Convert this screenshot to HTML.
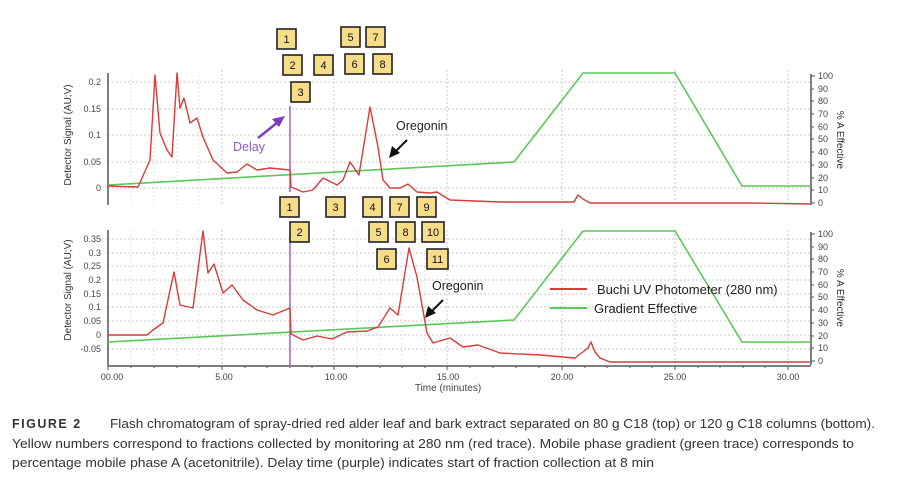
<!DOCTYPE html>
<html><head><meta charset="utf-8"><style>
html,body{margin:0;padding:0;background:#fff;}
svg{display:block;font-family:"Liberation Sans",sans-serif;}
.g{stroke:#c8c8c8;stroke-width:1;stroke-dasharray:2,2;}
.gm{stroke:#e4e4e4;stroke-width:1;stroke-dasharray:2,2;}
.t{font-size:9px;fill:#444;}
.b rect{fill:#f7dd8a;stroke:#222;stroke-width:1.6;}
.b text{font-size:11px;fill:#111;text-anchor:middle;}
.cap{font-size:12.5px;fill:#333;}
</style></head><body>
<svg width="908" height="490" viewBox="0 0 908 490" xmlns="http://www.w3.org/2000/svg">
<g class="gm">
<line x1="131" y1="75" x2="131" y2="205"/><line x1="154" y1="75" x2="154" y2="205"/><line x1="177" y1="75" x2="177" y2="205"/><line x1="199" y1="75" x2="199" y2="205"/>
<line x1="131" y1="230" x2="131" y2="365"/><line x1="154" y1="230" x2="154" y2="365"/><line x1="177" y1="230" x2="177" y2="365"/><line x1="199" y1="230" x2="199" y2="365"/>
<line x1="357" y1="230" x2="357" y2="365"/><line x1="380" y1="230" x2="380" y2="365"/><line x1="402" y1="230" x2="402" y2="365"/><line x1="425" y1="230" x2="425" y2="365"/>
</g>
<g class="g">
<line x1="222" y1="70" x2="222" y2="205"/><line x1="334" y1="70" x2="334" y2="205"/><line x1="447" y1="70" x2="447" y2="205"/><line x1="562" y1="70" x2="562" y2="205"/><line x1="675" y1="70" x2="675" y2="205"/><line x1="788" y1="70" x2="788" y2="205"/>
<line x1="222" y1="230" x2="222" y2="365"/><line x1="334" y1="230" x2="334" y2="365"/><line x1="447" y1="230" x2="447" y2="365"/><line x1="562" y1="230" x2="562" y2="365"/><line x1="675" y1="230" x2="675" y2="365"/><line x1="788" y1="230" x2="788" y2="365"/>
<line x1="108" y1="82" x2="810" y2="82"/><line x1="108" y1="109" x2="810" y2="109"/><line x1="108" y1="135" x2="810" y2="135"/><line x1="108" y1="162" x2="810" y2="162"/><line x1="108" y1="188" x2="810" y2="188"/>
<line x1="108" y1="239" x2="810" y2="239"/><line x1="108" y1="253" x2="810" y2="253"/><line x1="108" y1="266" x2="810" y2="266"/><line x1="108" y1="280" x2="810" y2="280"/><line x1="108" y1="294" x2="810" y2="294"/><line x1="108" y1="307" x2="810" y2="307"/><line x1="108" y1="321" x2="810" y2="321"/><line x1="108" y1="335" x2="810" y2="335"/><line x1="108" y1="349" x2="810" y2="349"/>
</g>
<g stroke="#555" stroke-width="1.5" fill="none">
<line x1="108" y1="73" x2="108" y2="205"/><line x1="108" y1="230" x2="108" y2="366"/>
<line x1="811" y1="74" x2="811" y2="205"/><line x1="811" y1="232" x2="811" y2="365"/>
<line x1="108" y1="366" x2="811" y2="366"/>
</g>
<g stroke="#555" stroke-width="1">
<path d="M811 76h4M811 89h3M811 101h3M811 114h3M811 127h3M811 139h3M811 152h3M811 165h3M811 178h3M811 190h3M811 203h4"/>
<path d="M811 234h4M811 247h3M811 259h3M811 272h3M811 285h3M811 297h3M811 310h3M811 323h3M811 336h3M811 348h3M811 361h4"/>
<path d="M108 366v4M131 366v2M154 366v2M177 366v2M199 366v2M222 366v4M245 366v2M267 366v2M290 366v2M312 366v2M334 366v4M357 366v2M380 366v2M402 366v2M425 366v2M447 366v4M470 366v2M493 366v2M516 366v2M539 366v2M562 366v4M585 366v2M607 366v2M630 366v2M652 366v2M675 366v4M698 366v2M720 366v2M743 366v2M765 366v2M788 366v4"/>
</g>
<g class="t" text-anchor="end">
<text x="101" y="85">0.2</text><text x="101" y="112">0.15</text><text x="101" y="138">0.1</text><text x="101" y="165">0.05</text><text x="101" y="191">0</text>
<text x="101" y="242">0.35</text><text x="101" y="256">0.3</text><text x="101" y="269">0.25</text><text x="101" y="283">0.2</text><text x="101" y="297">0.15</text><text x="101" y="310">0.1</text><text x="101" y="324">0.05</text><text x="101" y="338">0</text><text x="101" y="352">-0.05</text>
</g>
<g class="t">
<text x="818" y="79">100</text><text x="818" y="92">90</text><text x="818" y="104">80</text><text x="818" y="117">70</text><text x="818" y="130">60</text><text x="818" y="142">50</text><text x="818" y="155">40</text><text x="818" y="168">30</text><text x="818" y="181">20</text><text x="818" y="193">10</text><text x="818" y="206">0</text>
<text x="818" y="237">100</text><text x="818" y="250">90</text><text x="818" y="262">80</text><text x="818" y="275">70</text><text x="818" y="288">60</text><text x="818" y="300">50</text><text x="818" y="313">40</text><text x="818" y="326">30</text><text x="818" y="339">20</text><text x="818" y="351">10</text><text x="818" y="364">0</text>
</g>
<g class="t" text-anchor="middle">
<text x="112" y="380">00.00</text><text x="224" y="380">5.00</text><text x="336" y="380">10.00</text><text x="448" y="380">15.00</text><text x="562" y="380">20.00</text><text x="675" y="380">25.00</text><text x="788" y="380">30.00</text>
<text x="448" y="391" font-size="10">Time (minutes)</text>
</g>
<text transform="translate(71,135) rotate(-90)" text-anchor="middle" font-size="10" fill="#333">Detector Signal (AU;V)</text>
<text transform="translate(71,290) rotate(-90)" text-anchor="middle" font-size="10" fill="#333">Detector Signal (AU;V)</text>
<text transform="translate(837,140) rotate(90)" text-anchor="middle" font-size="10" fill="#333">% A Effective</text>
<text transform="translate(837,298) rotate(90)" text-anchor="middle" font-size="10" fill="#333">% A Effective</text>
<g stroke="#5ac85a" stroke-width="1.6" fill="none">
<polyline points="108,185 514,162 583,73 675,73 742,186 810,186"/>
<polyline points="108,342 514,320 583,231 675,231 742,342 810,342"/>
</g>
<g stroke="#8a5cc8" stroke-width="1.4">
<line x1="290" y1="106" x2="290" y2="192"/><line x1="290" y1="230" x2="290" y2="368"/>
</g>
<g stroke="#d93a3a" stroke-width="1.4" fill="none" stroke-linejoin="round">
<polyline points="108,186 138,187 150,160 155,75 160,133 167,150 172,157 177,73 180,108 184,98 190,123 197,118 203,137 213,160 227,173 237,172 247,164 257,170 270,168 290,170 291,187 303,192 313,190 323,178 337,185 343,180 350,162 359,175 370,107 378,147 383,180 390,188 400,188 408,184 417,192 430,193 437,192 450,200 500,202 540,202 574,202 578,195 583,199 590,203 650,203 720,203 750,203 810,204"/>
<polyline points="108,335 147,335 153,330 163,323 174,272 180,305 193,308 203,231 208,273 214,264 223,293 232,285 243,300 257,310 273,315 290,308 291,334 303,340 317,336 332,339 347,332 367,331 378,327 390,308 398,315 409,248 417,277 427,333 433,343 450,338 463,347 478,345 500,353 540,355 575,358 588,348 591,342 595,352 600,358 610,362 810,362"/>
</g>
<text x="233" y="151" font-size="12.5" fill="#8a5cc8">Delay</text>
<g stroke="#7a3cc0" stroke-width="2.5" fill="#7a3cc0"><line x1="258" y1="138" x2="278" y2="122"/><polygon points="285,116 272,119 279,127" stroke="none"/></g>
<text x="396" y="130" font-size="12.5" fill="#222">Oregonin</text>
<g stroke="#111" stroke-width="2"><line x1="407" y1="140" x2="394" y2="153"/><polygon points="389,158 392,146 400,153" fill="#111" stroke="none"/></g>
<text x="432" y="290" font-size="12.5" fill="#222">Oregonin</text>
<g stroke="#111" stroke-width="2"><line x1="443" y1="300" x2="430" y2="313"/><polygon points="425,318 428,306 436,313" fill="#111" stroke="none"/></g>
<line x1="550" y1="289" x2="587" y2="289" stroke="#d93a3a" stroke-width="2"/>
<text x="597" y="294" font-size="13" fill="#222">Buchi UV Photometer (280 nm)</text>
<line x1="550" y1="308" x2="587" y2="308" stroke="#5ac85a" stroke-width="2"/>
<text x="594" y="313" font-size="13" fill="#222">Gradient Effective</text>
<g class="b">
<rect x="277" y="29" width="19" height="20"/><text x="286.5" y="43">1</text>
<rect x="341" y="27" width="19" height="20"/><text x="350.5" y="41">5</text>
<rect x="366" y="27" width="19" height="20"/><text x="375.5" y="41">7</text>
<rect x="283" y="55" width="19" height="20"/><text x="292.5" y="69">2</text>
<rect x="314" y="55" width="19" height="20"/><text x="323.5" y="69">4</text>
<rect x="345" y="54" width="19" height="20"/><text x="354.5" y="68">6</text>
<rect x="373" y="54" width="19" height="20"/><text x="382.5" y="68">8</text>
<rect x="291" y="82" width="19" height="20"/><text x="300.5" y="96">3</text>
<rect x="280" y="197" width="19" height="20"/><text x="289.5" y="211">1</text>
<rect x="326" y="197" width="19" height="20"/><text x="335.5" y="211">3</text>
<rect x="363" y="197" width="19" height="20"/><text x="372.5" y="211">4</text>
<rect x="390" y="197" width="19" height="20"/><text x="399.5" y="211">7</text>
<rect x="417" y="197" width="19" height="20"/><text x="426.5" y="211">9</text>
<rect x="290" y="222" width="19" height="20"/><text x="299.5" y="236">2</text>
<rect x="369" y="222" width="19" height="20"/><text x="378.5" y="236">5</text>
<rect x="396" y="222" width="19" height="20"/><text x="405.5" y="236">8</text>
<rect x="422" y="222" width="22" height="20"/><text x="433" y="236">10</text>
<rect x="377" y="249" width="19" height="20"/><text x="386.5" y="263">6</text>
<rect x="427" y="249" width="21" height="20"/><text x="437.5" y="263">11</text>
</g>
<text x="12" y="428" font-size="12.5" font-weight="bold" fill="#333" letter-spacing="1.5">FIGURE 2</text>
<text class="cap" x="110" y="428" textLength="765" lengthAdjust="spacingAndGlyphs">Flash chromatogram of spray-dried red alder leaf and bark extract separated on 80 g C18 (top) or 120 g C18 columns (bottom).</text>
<text class="cap" x="12" y="448" textLength="842" lengthAdjust="spacingAndGlyphs">Yellow numbers correspond to fractions collected by monitoring at 280 nm (red trace). Mobile phase gradient (green trace) corresponds to</text>
<text class="cap" x="12" y="467" textLength="642" lengthAdjust="spacingAndGlyphs">percentage mobile phase A (acetonitrile). Delay time (purple) indicates start of fraction collection at 8 min</text>
</svg>
</body></html>
